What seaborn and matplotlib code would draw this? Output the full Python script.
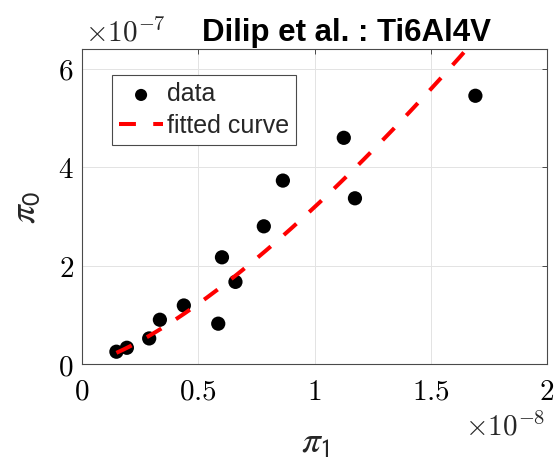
import numpy as np
import pandas as pd
import matplotlib
matplotlib.use("Agg")
import matplotlib.pyplot as plt
from matplotlib.ticker import FuncFormatter, FixedLocator
import seaborn as sns

# Measured dimensionless groups (pi_1 in units of 1e-8, pi_0 in units of 1e-7)
pi1_scaled = [0.148, 0.193, 0.289, 0.335, 0.438, 0.586, 0.602, 0.660, 0.782,
              0.864, 1.126, 1.174, 1.692]
pi0_scaled = [0.25, 0.33, 0.52, 0.90, 1.19, 0.82, 2.17, 1.67, 2.80,
              3.73, 4.60, 3.37, 5.455]

# Power-law fit  pi_0 = a * pi_1^b  (same scaled units)
fit_a = 3.19
fit_b = 1.383

x_ticks = [0, 0.5, 1, 1.5, 2]
y_ticks = [0, 2, 4, 6]
x_scale = 1e-8
y_scale = 1e-7

pi1 = np.array(pi1_scaled) * x_scale
pi0 = np.array(pi0_scaled) * y_scale
df = pd.DataFrame({"pi1": pi1, "pi0": pi0})

x_fit = np.linspace(min(pi1_scaled), max(pi1_scaled), 200)
fit_df = pd.DataFrame({"pi1": x_fit * x_scale,
                       "pi0": fit_a * x_fit ** fit_b * y_scale})

sns.set_theme(style="white")
plt.rcParams["font.family"] = ["Liberation Sans", "DejaVu Sans"]

W, H = 554, 461
fig = plt.figure(figsize=(W / 100, H / 100), dpi=100)
ax_l, ax_r, ax_t, ax_b = 82.0, 547.0, 49.3, 364.0
ax = fig.add_axes([ax_l / W, 1 - ax_b / H, (ax_r - ax_l) / W, (ax_b - ax_t) / H])

sns.scatterplot(data=df, x="pi1", y="pi0", ax=ax, color="black", s=105,
                edgecolor="none", label="data", zorder=3)
sns.lineplot(data=fit_df, x="pi1", y="pi0", ax=ax, color="red", linewidth=2.9,
             label="fitted curve", zorder=4)
fit_line = ax.get_lines()[-1]
fit_line.set_dashes([4.2, 4.3])
fit_line.set_dash_capstyle("butt")

ax.set_xlim(0, 2 * x_scale)
ax.set_ylim(0, 6.4 * y_scale)
ax.xaxis.set_major_locator(FixedLocator([t * x_scale for t in x_ticks]))
ax.yaxis.set_major_locator(FixedLocator([t * y_scale for t in y_ticks]))
ax.xaxis.set_major_formatter(FuncFormatter(lambda v, _: f"${v / x_scale:g}$"))
ax.yaxis.set_major_formatter(FuncFormatter(lambda v, _: f"${v / y_scale:g}$"))

ax.set_xlabel("")
ax.set_ylabel("")
ax.grid(True, color="#e3e3e3", linewidth=0.7)
ax.set_axisbelow(True)
for sp in ax.spines.values():
    sp.set_visible(True)
    sp.set_color("#4a4a4a")
    sp.set_linewidth(0.8)

ax.tick_params(axis="both", which="major", direction="in", length=3.5,
               width=0.7, color="#4a4a4a", top=True, right=True,
               labelsize=21, labelcolor="black")
ax.tick_params(axis="x", pad=10)
ax.tick_params(axis="y", pad=6)
for lab in ax.get_xticklabels() + ax.get_yticklabels():
    lab.set_math_fontfamily("cm")

# Title sits right of centre, clear of the exponent label
fig.text(346.5 / W, 1 - 41.5 / H, "Dilip et al. : Ti6Al4V", fontsize=22.5,
         fontweight="bold", ha="center", va="baseline", color="black")

# Exponent multipliers for the axes
fig.text(85 / W, 1 - 41 / H, r"$\times10^{-7}$", fontsize=21,
         math_fontfamily="cm", ha="left", va="baseline")
fig.text(545 / W, 1 - 435 / H, r"$\times10^{-8}$", fontsize=21,
         math_fontfamily="cm", ha="right", va="baseline")

# Axis labels
fig.text(315 / W, 1 - 443 / H, r"$\pi_{\mathsf{1}}$", fontsize=27,
         math_fontfamily="stix", ha="center", va="center")
fig.text(25 / W, 1 - 207 / H, r"$\pi_{\mathsf{0}}$", fontsize=27,
         math_fontfamily="stix", ha="center", va="center", rotation=90)

leg = ax.legend(loc="upper left",
                bbox_to_anchor=((111.7 - ax_l) / (ax_r - ax_l),
                                (ax_b - 75) / (ax_b - ax_t)),
                borderaxespad=0, frameon=True, fancybox=False, fontsize=18,
                handlelength=1.75, handletextpad=0.15, borderpad=0.3,
                labelspacing=0.3, markerscale=0.85)
leg.get_frame().set_edgecolor("#4a4a4a")
leg.get_frame().set_linewidth(0.8)
leg.get_frame().set_alpha(1)

fig.savefig("out.png", dpi=100)
